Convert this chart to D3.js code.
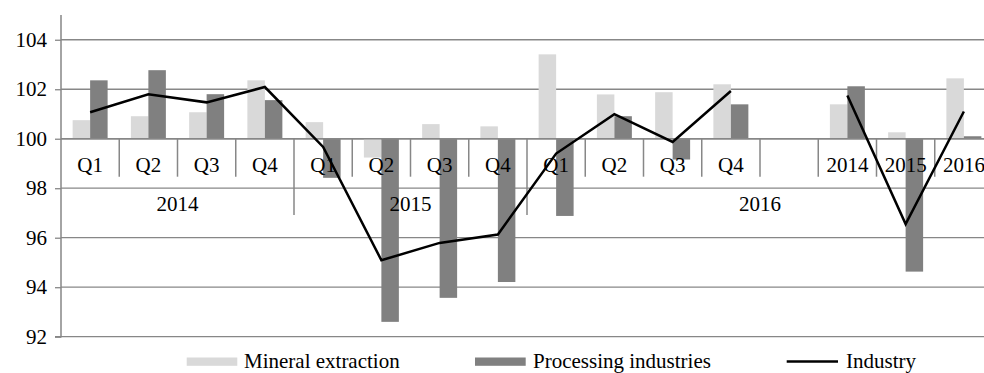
<!DOCTYPE html>
<html>
<head>
<meta charset="utf-8">
<script src="https://cdn.jsdelivr.net/npm/d3@7/dist/d3.min.js"></script>
<style>
  html, body { margin: 0; padding: 0; background: #fff; }
  svg { display: block; }
  text { font-family: "Liberation Serif", "DejaVu Serif", "Times New Roman", serif; fill: #000; }
</style>
</head>
<body>
<svg id="chart" width="984" height="373"></svg>
<script>
// Category labels (first level) and year groups (second level)
const quarterLabels = ["Q1","Q2","Q3","Q4","Q1","Q2","Q3","Q4","Q1","Q2","Q3","Q4","","2014","2015","2016"];
const yearGroups = ["2014","2015","2016"];
const yearSpans = [4, 4, 8];

// Series values (index, previous period = 100)
const mineral = [100.75,100.91,101.07,102.36,100.67,99.24,100.59,100.5,103.41,101.79,101.88,102.2,null,101.39,100.26,102.44];
const processing = [102.36,102.77,101.8,101.56,98.42,92.6,93.57,94.21,96.88,100.91,99.16,101.39,null,102.12,94.63,100.1];
const industry = [101.07,101.8,101.47,102.09,99.67,95.09,95.79,96.13,99.4,100.99,99.87,101.93,null,101.75,96.55,101.1];

const yTicks = [92, 94, 96, 98, 100, 102, 104];
const seriesNames = ["Mineral extraction", "Processing industries", "Industry"];

const svg = d3.select("#chart");
const plotLeft = 61, plotRight = 993, plotTop = 15, plotBottom = 336.7;
const baseline = 100;

const keys = quarterLabels.map((d, i) => i);
const x = d3.scaleBand().domain(keys).range([plotLeft, plotRight]).paddingInner(0).paddingOuter(0);
const xInner = d3.scaleBand().domain(["mineral", "processing"]).range([0, x.bandwidth()]).paddingInner(0).paddingOuter(0.665);
const y = d3.scaleLinear().domain([92, 105]).range([plotBottom, plotTop]);

const gridColor = "#878787";
const lightFill = "#d9d9d9";
const darkFill = "#808080";
const fontSize = 21;

// Horizontal gridlines
svg.append("g")
  .selectAll("line")
  .data(yTicks)
  .join("line")
  .attr("x1", plotLeft).attr("x2", plotRight)
  .attr("y1", d => y(d)).attr("y2", d => y(d))
  .attr("stroke", gridColor).attr("stroke-width", 1.3);

// Value axis
const yAxis = d3.axisLeft(y).tickValues(yTicks).tickSize(6).tickPadding(8).tickFormat(d3.format("d"));
const gy = svg.append("g").attr("transform", `translate(${plotLeft},0)`).call(yAxis);
gy.select(".domain").attr("stroke", gridColor).attr("stroke-width", 1.5).attr("d", `M-6,${y(92)}H0V${plotTop}`);
gy.selectAll(".tick line").attr("stroke", gridColor).attr("stroke-width", 1.3);
gy.selectAll(".tick text").attr("font-size", fontSize).attr("fill", "#000");

// Bars
const barData = [];
keys.forEach(i => {
  if (mineral[i] != null) barData.push({ i, s: "mineral", v: mineral[i] });
  if (processing[i] != null) barData.push({ i, s: "processing", v: processing[i] });
});
svg.append("g")
  .selectAll("rect")
  .data(barData)
  .join("rect")
  .attr("x", d => x(d.i) + xInner(d.s))
  .attr("width", xInner.bandwidth())
  .attr("y", d => Math.min(y(d.v), y(baseline)))
  .attr("height", d => Math.abs(y(d.v) - y(baseline)))
  .attr("fill", d => d.s === "mineral" ? lightFill : darkFill);

// Category axis at 100 with two label levels
const cat = svg.append("g");
const y0 = y(baseline);
const row1Bottom = 176.7;
const row2Bottom = 215;
cat.append("line").attr("x1", plotLeft).attr("x2", plotRight).attr("y1", y0).attr("y2", y0)
  .attr("stroke", gridColor).attr("stroke-width", 1.5);

// Group boundaries
const groupStarts = [];
let acc = 0;
yearSpans.forEach(s => { groupStarts.push(acc); acc += s; });
const boundarySet = new Set(groupStarts.concat([acc]));

cat.selectAll("line.div")
  .data(d3.range(1, keys.length))
  .join("line")
  .attr("class", "div")
  .attr("x1", i => x(i)).attr("x2", i => x(i))
  .attr("y1", y0)
  .attr("y2", i => boundarySet.has(i) ? row2Bottom : row1Bottom)
  .attr("stroke", gridColor).attr("stroke-width", 1.5);

cat.selectAll("text.q")
  .data(keys)
  .join("text")
  .attr("class", "q")
  .attr("x", i => x(i) + x.bandwidth() / 2)
  .attr("y", 171.5)
  .attr("text-anchor", "middle")
  .attr("font-size", fontSize)
  .text(i => quarterLabels[i]);

cat.selectAll("text.yr")
  .data(yearGroups)
  .join("text")
  .attr("class", "yr")
  .attr("x", (d, j) => {
    const a = x(groupStarts[j]);
    const b = x(groupStarts[j] + yearSpans[j] - 1) + x.bandwidth();
    return (a + b) / 2;
  })
  .attr("y", 210.5)
  .attr("text-anchor", "middle")
  .attr("font-size", fontSize)
  .text(d => d);

// Industry line
const line = d3.line()
  .defined(d => d != null)
  .x((d, i) => x(i) + x.bandwidth() / 2)
  .y(d => y(d));
svg.append("path")
  .datum(industry)
  .attr("d", line)
  .attr("fill", "none")
  .attr("stroke", "#000")
  .attr("stroke-width", 2.5)
  .attr("stroke-linejoin", "miter");

// Legend
const legend = svg.append("g");
const legY = 367.5;
legend.append("rect").attr("x", 186.7).attr("y", 357.5).attr("width", 50.6).attr("height", 8.3).attr("fill", lightFill);
legend.append("text").attr("x", 244).attr("y", legY).attr("font-size", fontSize).text(seriesNames[0]);
legend.append("rect").attr("x", 475).attr("y", 357.5).attr("width", 50.7).attr("height", 8.3).attr("fill", darkFill);
legend.append("text").attr("x", 533).attr("y", legY).attr("font-size", fontSize).text(seriesNames[1]);
legend.append("line").attr("x1", 786.7).attr("x2", 838).attr("y1", 361.5).attr("y2", 361.5)
  .attr("stroke", "#000").attr("stroke-width", 2.5);
legend.append("text").attr("x", 846).attr("y", legY).attr("font-size", fontSize).text(seriesNames[2]);
</script>
</body>
</html>
